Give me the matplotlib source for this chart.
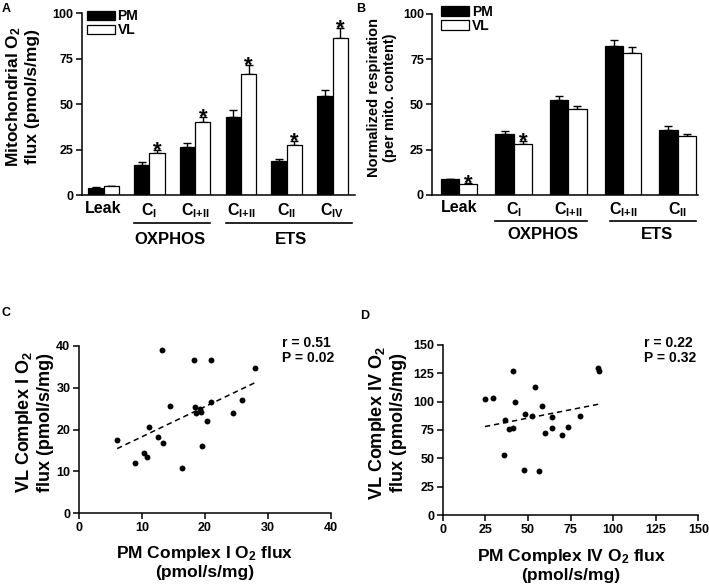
import numpy as np
import matplotlib
matplotlib.use("Agg")
import matplotlib.pyplot as plt
from matplotlib.patches import Patch
from matplotlib.transforms import blended_transform_factory

plt.rcParams.update({
    "font.family": ["Liberation Sans", "DejaVu Sans"],
    "font.weight": "bold",
    "mathtext.fontset": "custom",
    "mathtext.bf": "Liberation Sans:bold",
    "mathtext.rm": "Liberation Sans:bold",
    "mathtext.it": "Liberation Sans:bold",
    "mathtext.sf": "Liberation Sans:bold",
    "mathtext.default": "bf",
    "axes.linewidth": 1.1,
})

# ---------------- data ----------------
a_labels = ["Leak", "C$_{I}$", "C$_{I{+}II}$", "C$_{I{+}II}$", "C$_{II}$", "C$_{IV}$"]
a_pm = [4.0, 16.8, 26.7, 43.2, 18.8, 54.3]
a_pm_err = [0.3, 1.3, 1.8, 3.4, 1.3, 3.7]
a_vl = [4.9, 23.2, 40.4, 66.5, 27.8, 86.5]
a_vl_err = [0.3, 1.7, 2.8, 5.0, 2.2, 5.3]
a_sig = [False, True, True, True, True, True]

b_labels = ["Leak", "C$_{I}$", "C$_{I{+}II}$", "C$_{I{+}II}$", "C$_{II}$"]
b_pm = [8.5, 33.4, 52.4, 82.5, 36.0]
b_pm_err = [0.4, 2.0, 2.0, 3.1, 2.0]
b_vl = [5.9, 28.0, 47.2, 78.2, 32.3]
b_vl_err = [0.6, 1.9, 1.8, 3.3, 1.3]
b_sig = [True, True, False, False, False]

c_pm = [6.1, 8.9, 10.4, 10.8, 11.2, 12.5, 13.2, 13.4, 14.4, 16.3, 18.3,
        18.5, 18.6, 19.2, 19.4, 19.6, 20.4, 21.0, 21.0, 24.4, 25.9, 28.0]
c_vl = [17.5, 12.1, 14.5, 13.4, 20.5, 18.3, 39.0, 16.7, 25.6, 10.7, 36.5,
        25.4, 23.9, 25.0, 24.2, 16.1, 22.1, 36.5, 26.6, 23.9, 27.0, 34.6]
c_fit = (0.72, 11.05)   # slope, intercept
c_stats = "r = 0.51\nP = 0.02"

d_pm = [24.8, 29.7, 36.4, 35.8, 38.9, 41.1, 41.3, 42.2, 47.9, 48.3, 52.4,
        54.2, 56.3, 58.1, 60.2, 64.1, 64.1, 70.2, 73.3, 80.8, 91.3, 91.9]
d_vl = [102.3, 103.4, 83.5, 52.7, 76.2, 77.1, 126.9, 99.3, 40.1, 89.4, 87.3,
        112.5, 39.3, 96.1, 72.4, 86.7, 77.1, 70.3, 77.6, 87.6, 129.8, 127.2]
d_fit = (0.295, 70.7)
d_stats = "r = 0.22\nP = 0.32"

W, H = 709, 588
fig = plt.figure(figsize=(W / 100, H / 100), dpi=100)


def ax_px(l, r, t, b):
    return fig.add_axes([l / W, 1 - b / H, (r - l) / W, (b - t) / H])


def bar_panel(ax, labels, pm, pm_err, vl, vl_err, sig, xlim, legend_anchor):
    w = 0.335
    x = np.arange(len(labels))
    ax.bar(x - w / 2, pm, w, color="black", edgecolor="black", linewidth=0.9, zorder=2)
    ax.bar(x + w / 2, vl, w, color="white", edgecolor="black", linewidth=0.9, zorder=2)
    z = np.zeros(len(x))
    ax.errorbar(x - w / 2, pm, yerr=[z, pm_err], fmt="none", ecolor="black",
                elinewidth=1.0, capsize=3, capthick=1.0, zorder=1)
    ax.errorbar(x + w / 2, vl, yerr=[z, vl_err], fmt="none", ecolor="black",
                elinewidth=1.0, capsize=3, capthick=1.0, zorder=1)
    for xi, v, e, s in zip(x, vl, vl_err, sig):
        if s:
            ax.annotate("*", (xi + w / 2, v + e), xytext=(0, -5),
                        textcoords="offset points", ha="center", va="baseline",
                        fontsize=16, fontweight="bold")
    ax.set_xlim(*xlim)
    ax.set_ylim(0, 100)
    ax.set_yticks([0, 25, 50, 75, 100])
    ax.set_xticks(x)
    ax.set_xticklabels(labels, fontsize=11.5, fontweight="bold")
    ax.tick_params(axis="x", length=0, pad=4)
    ax.tick_params(axis="y", length=4, width=1.1, labelsize=9, pad=2)
    for sp in ["top", "right"]:
        ax.spines[sp].set_visible(False)
    handles = [Patch(facecolor="black", edgecolor="black", linewidth=0.9),
               Patch(facecolor="white", edgecolor="black", linewidth=0.9)]
    ax.legend(handles, ["PM", "VL"], loc="upper left", bbox_to_anchor=legend_anchor,
              frameon=False, borderpad=0, borderaxespad=0, handlelength=2.0,
              handleheight=0.65, handletextpad=0.2, labelspacing=0.0,
              prop={"weight": "bold", "size": 10})
    return w


def group_bracket(ax, x0, x1, xt, text, yline, ytext):
    tr = blended_transform_factory(ax.transData, ax.transAxes)
    ax.plot([x0, x1], [yline, yline], color="black", lw=1.2, transform=tr, clip_on=False)
    ax.text(xt, ytext, text, transform=tr, ha="center", va="center",
            fontsize=12, fontweight="bold")


# Panel A
axA = ax_px(82, 355, 13, 195.3)
w = bar_panel(axA, a_labels, a_pm, a_pm_err, a_vl, a_vl_err, a_sig,
              (-0.47, 5.49), (0.018, 1.02))
group_bracket(axA, 1 - w, 2 + w, 1.45, "OXPHOS", -0.152, -0.24)
group_bracket(axA, 3 - w, 5 + w + 0.1, 4.1, "ETS", -0.152, -0.24)
fig.text(22 / W, 1 - 97 / H, "Mitochondrial O$_2$\nflux (pmol/s/mg)", rotation=90,
         ha="center", va="center", fontsize=12.5, fontweight="bold",
         linespacing=1.15, multialignment="center")

# Panel B
axB = ax_px(432.3, 698.3, 14, 194.7)
w = bar_panel(axB, b_labels, b_pm, b_pm_err, b_vl, b_vl_err, b_sig,
              (-0.49, 4.38), (0.033, 1.05))
group_bracket(axB, 1 - w, 2 + w, 1.53, "OXPHOS", -0.146, -0.223)
group_bracket(axB, 3 - w + 0.1, 4 + w, 3.62, "ETS", -0.146, -0.223)
fig.text(382 / W, 1 - 97.5 / H, "Normalized respiration\n(per mito. content)", rotation=90,
         ha="center", va="center", fontsize=10.5, fontweight="bold",
         linespacing=1.25, multialignment="center")


def scatter_panel(ax, xs, ys, fit, stats, lim, ticks, stats_px):
    ax.scatter(xs, ys, s=18, color="black", zorder=3, linewidths=0)
    xs_arr = np.array(xs)
    lx = np.array([xs_arr.min(), xs_arr.max()])
    ax.plot(lx, fit[0] * lx + fit[1], color="black", lw=1.1, dashes=(3.5, 2.5))
    ax.set_xlim(*lim)
    ax.set_ylim(*lim)
    ax.set_xticks(ticks)
    ax.set_yticks(ticks)
    ax.tick_params(length=4, width=1.1, labelsize=9, pad=2)
    for sp in ["top", "right"]:
        ax.spines[sp].set_visible(False)
    fig.text(stats_px[0] / W, 1 - stats_px[1] / H, stats, ha="left", va="top",
             fontsize=10, fontweight="bold", linespacing=1.05)


axC = ax_px(78.7, 331, 345.7, 513.3)
scatter_panel(axC, c_pm, c_vl, c_fit, c_stats, (0, 40), [0, 10, 20, 30, 40], (282, 336))
fig.text(34 / W, 1 - 422 / H, "VL Complex I O$_2$\nflux (pmol/s/mg)", rotation=90,
         ha="center", va="center", fontsize=13, fontweight="bold",
         linespacing=1.1, multialignment="center")
fig.text(205 / W, 1 - 562 / H, "PM Complex I O$_2$ flux\n(pmol/s/mg)",
         ha="center", va="center", fontsize=12.5, fontweight="bold",
         linespacing=1.2, multialignment="center")

axD = ax_px(442.7, 698.3, 344.7, 515.3)
scatter_panel(axD, d_pm, d_vl, d_fit, d_stats, (0, 150), [0, 25, 50, 75, 100, 125, 150],
              (644, 336))
fig.text(387 / W, 1 - 423 / H, "VL Complex IV O$_2$\nflux (pmol/s/mg)", rotation=90,
         ha="center", va="center", fontsize=13, fontweight="bold",
         linespacing=1.1, multialignment="center")
fig.text(571 / W, 1 - 565 / H, "PM Complex IV O$_2$ flux\n(pmol/s/mg)",
         ha="center", va="center", fontsize=12.5, fontweight="bold",
         linespacing=1.2, multialignment="center")

# panel letters
for t, px, py in [("A", 2, 3), ("B", 356, 3), ("C", 1, 307), ("D", 360, 310)]:
    fig.text(px / W, 1 - py / H, t, ha="left", va="top", fontsize=9, fontweight="bold")

fig.savefig("out.png", dpi=100)
